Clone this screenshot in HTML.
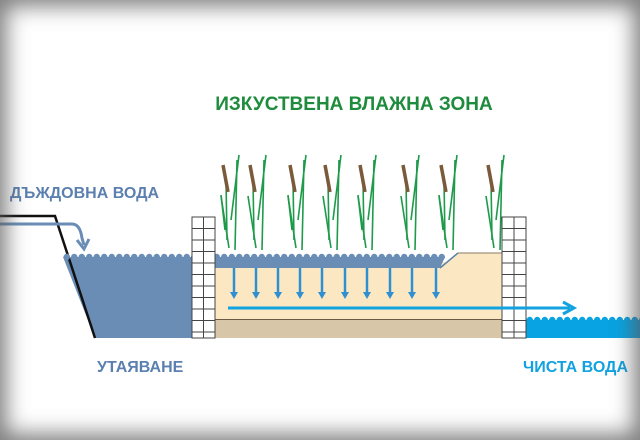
<!DOCTYPE html>
<html><head><meta charset="utf-8"><style>
html,body{margin:0;padding:0;background:#fff}
#wrap{position:relative;width:640px;height:440px;overflow:hidden;background:#fff;font-family:"Liberation Sans",sans-serif}
#vig{position:absolute;left:0;top:0;width:640px;height:440px;box-shadow:inset 0 0 22px 6px rgba(90,90,90,0.8);pointer-events:none}
</style></head><body>
<div id="wrap">
<svg id="svg" width="640" height="440">
  <text x="354" y="110" text-anchor="middle" font-family="Liberation Sans, sans-serif" font-weight="bold" font-size="19" fill="#1e8c3c">ИЗКУСТВЕНА ВЛАЖНА ЗОНА</text>
  <text x="10" y="198" font-family="Liberation Sans, sans-serif" font-weight="bold" font-size="16" fill="#5b80b0">ДЪЖДОВНА ВОДА</text>
  <text x="97" y="372" font-family="Liberation Sans, sans-serif" font-weight="bold" font-size="16" fill="#5b80b0">УТАЯВАНЕ</text>
  <text x="523" y="372" font-family="Liberation Sans, sans-serif" font-weight="bold" font-size="16" fill="#12a2e0">ЧИСТА ВОДА</text>
  <rect x="215" y="262" width="287" height="58" fill="#fbe8c3"/>
  <rect x="215" y="320" width="287" height="18" fill="#d8c6a8"/>
  <line x1="215" y1="319.5" x2="502" y2="319.5" stroke="#6b5a45" stroke-width="1"/>
  <polygon points="215,257 445,257 440,268 215,268" fill="#6a8db5"/>
  <polygon points="440,268 458,253 502,253 502,268" fill="#fbe8c3"/>
  <line x1="440" y1="268" x2="458" y2="253" stroke="#5b7fa8" stroke-width="1.5"/>
  <line x1="458" y1="253" x2="502" y2="253" stroke="#8a7a60" stroke-width="1"/>
  <polygon points="63,257 192,257 192,338 95,338" fill="#6a8db5"/>
  <polyline points="0,216 55,216 95,338" fill="none" stroke="#111" stroke-width="2.5"/>
  <rect x="526" y="320" width="114" height="18" fill="#08a3e2"/>
  <g id="waves"></g>
  <g id="walls"></g>
  <g id="arrows"></g>
  <g id="reeds"></g>
  <path d="M0,224 L72,224 Q80,224 82,238 L84,245" fill="none" stroke="#6a8db5" stroke-width="3"/>
  <path d="M77,240 L84,249 L89,239" fill="none" stroke="#6a8db5" stroke-width="3"/>
  <line x1="228" y1="308" x2="570" y2="308" stroke="#12a2e0" stroke-width="3"/>
  <path d="M563,302 L574,308 L563,314" fill="none" stroke="#12a2e0" stroke-width="3"/>
</svg>
<div id="vig"></div>
</div>
<script>
const NS='http://www.w3.org/2000/svg';
function mk(t,a,p){const e=document.createElementNS(NS,t);for(const k in a)e.setAttribute(k,a[k]);p.appendChild(e);return e;}
const waves=document.getElementById('waves');
function waveRow(x0,x1,y,col){for(let x=x0;x<x1;x+=7.5){mk('circle',{cx:x+3.75,cy:y,r:3.2,fill:col},waves);mk('circle',{cx:x,cy:y-3.2,r:1.6,fill:'#fff'},waves);}}
waveRow(63,445,257,'#6a8db5');
waveRow(526,640,320,'#08a3e2');
const walls=document.getElementById('walls');
function wall(x,w){
  const g=mk('g',{},walls);
  
  
  mk('rect',{x:x,y:217,width:w,height:121,fill:'#fff',stroke:'#444','stroke-width':1},g);
  mk('line',{x1:x+w/2,y1:217,x2:x+w/2,y2:338,stroke:'#444','stroke-width':1},g);
  for(let y=217+11.5;y<338;y+=11.5)mk('line',{x1:x,y1:y,x2:x+w,y2:y,stroke:'#444','stroke-width':1},g);
}
wall(192,23);wall(502,24);
const arrows=document.getElementById('arrows');
const ax=[234,256,278,300,322,345,367,390,412,436];
ax.forEach(x=>{
  const l=mk('line',{x1:x,y1:268,x2:x,y2:293,stroke:'#2f8fd0','stroke-width':2.5},arrows);
  
  
  mk('polygon',{points:`${x-4},292 ${x+4},292 ${x},299`,fill:'#2f8fd0'},arrows);
});
const reeds=document.getElementById('reeds');
const gx=[225,252,292,327,362,405,443,490];
gx.forEach((x,i)=>{
  const g=mk('g',{stroke:'#1e9a4a','stroke-width':1.6},reeds);
  
  
  mk('line',{x1:x+4,y1:248,x2:x-4,y2:196},g);
  mk('line',{x1:x+2,y1:240,x2:x+1,y2:180},g);
  mk('line',{x1:x+6,y1:220,x2:x+14,y2:155},g);
  mk('line',{x1:x+10,y1:250,x2:x+12,y2:160},g);
  if(i%2==0)mk('line',{x1:x,y1:230,x2:x-4,y2:195},g);
  mk('line',{x1:x-2,y1:165,x2:x+3,y2:192,stroke:'#7a5a3a','stroke-width':3.5},g);
});
</script>
</body></html>
